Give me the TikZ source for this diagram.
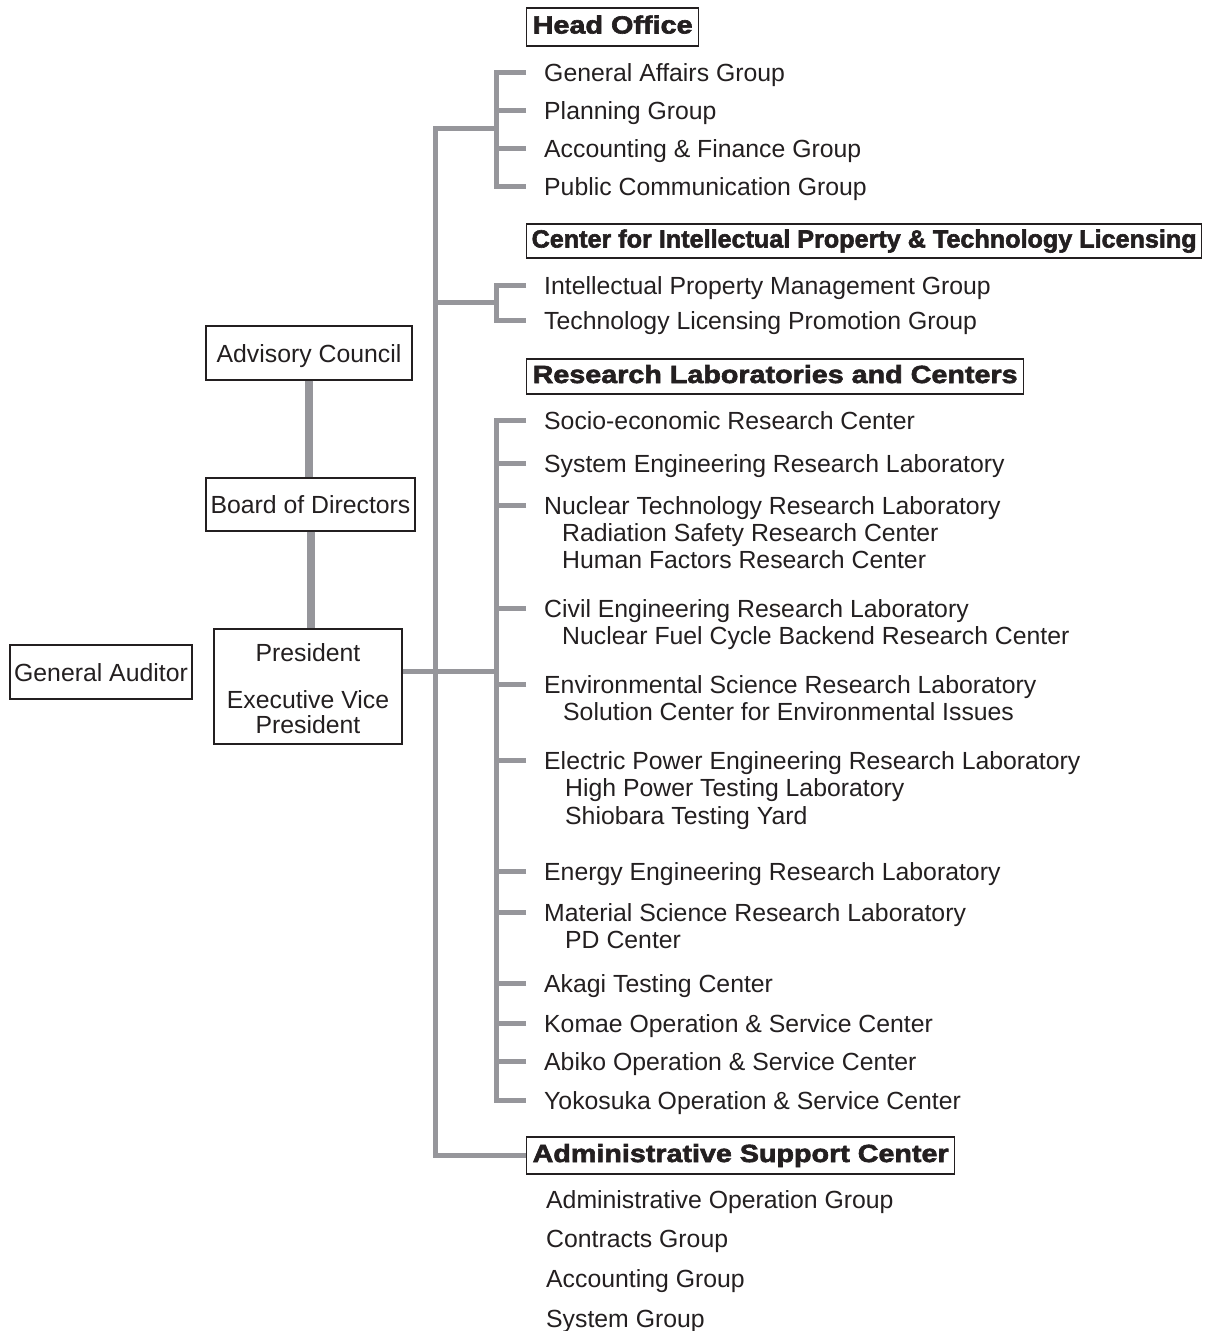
\documentclass[tikz,border=0pt]{standalone}
\usepackage{fontspec}
\setmainfont{Liberation Sans}
\newfontfamily\heavy[FakeStretch=1.15,FakeBold=2.5]{Liberation Sans Bold}
\definecolor{ln}{HTML}{96969B}
\definecolor{ink}{HTML}{231F20}
\begin{document}
\begin{tikzpicture}[x=1pt,y=-1pt,
  every node/.style={text=ink},
  item/.style={anchor=base west, inner sep=0pt, font=\fontsize{24.8}{25}\selectfont},
  head/.style={draw=ink, line width=1.3pt, anchor=west, inner xsep=6pt, inner ysep=0pt,
    text height=18pt, text depth=5pt, font=\heavy\fontsize{24.8}{25}\selectfont},
  box/.style={draw=ink, line width=1.3pt, inner sep=0pt, align=center,
    font=\fontsize{24.8}{25}\selectfont},
  onebox/.style={box, text height=18pt, text depth=0pt},
  conn/.style={draw=ln, line width=5pt},
  bigconn/.style={draw=ln, line width=8pt}]
\useasboundingbox (0,0) rectangle (1209,1331);

% ---------- left boxes ----------
\node[onebox, minimum width=206pt, minimum height=54pt] (adv) at (309,353) {Advisory Council};
\node[onebox, minimum width=209pt, minimum height=53pt] (bod) at (310.5,504.5) {Board of Directors};
\node[box, minimum width=188pt, minimum height=115pt] (pres) at (308,686.5)
  {\rule{0pt}{22pt}President\\[22pt]Executive Vice\\President};
\node[onebox, minimum width=182pt, minimum height=54pt] (aud) at (101,672) {General Auditor};

\draw[bigconn] (adv.south) -- (adv.south |- bod.north);
\draw[bigconn] (bod.south) -- (bod.south |- pres.north);

% ---------- headings ----------
\node[head, minimum height=38pt] (ho) at (526,27) {\resizebox{160pt}{\height}{Head Office}};
\node[head, minimum height=34pt, inner xsep=5pt] (cip) at (526,241)
  {\resizebox{665pt}{\height}{Center for Intellectual Property \& Technology Licensing}};
\node[head, minimum height=35pt] (rlc) at (526,376.5) {\resizebox{485pt}{\height}{Research Laboratories and Centers}};
\node[head, minimum height=37pt] (adm) at (526,1155.5) {\resizebox{416pt}{\height}{Administrative Support Center}};

% ---------- Head Office items ----------
\node[item] (h1) at (544,81) {General Affairs Group};
\node[item] (h2) at (544,119) {Planning Group};
\node[item] (h3) at (544,157) {Accounting \& Finance Group};
\node[item] (h4) at (544,195) {Public Communication Group};

% ---------- CIPTL items ----------
\node[item] (c1) at (544,294) {Intellectual Property Management Group};
\node[item] (c2) at (544,329) {Technology Licensing Promotion Group};

% ---------- Research items ----------
\node[item] (r1) at (544,429) {Socio-economic Research Center};
\node[item] (r2) at (544,472) {System Engineering Research Laboratory};
\node[item] (r3) at (544,514) {Nuclear Technology Research Laboratory};
\node[item] (r3a) at (562,541) {Radiation Safety Research Center};
\node[item] (r3b) at (562,568) {Human Factors Research Center};
\node[item] (r4) at (544,617) {Civil Engineering Research Laboratory};
\node[item] (r4a) at (562,644) {Nuclear Fuel Cycle Backend Research Center};
\node[item] (r5) at (544,693) {Environmental Science Research Laboratory};
\node[item] (r5a) at (563,720) {Solution Center for Environmental Issues};
\node[item] (r6) at (544,769) {Electric Power Engineering Research Laboratory};
\node[item] (r6a) at (565,796) {High Power Testing Laboratory};
\node[item] (r6b) at (565,824) {Shiobara Testing Yard};
\node[item] (r7) at (544,880) {Energy Engineering Research Laboratory};
\node[item] (r8) at (544,921) {Material Science Research Laboratory};
\node[item] (r8a) at (565,948) {PD Center};
\node[item] (r9) at (544,992) {Akagi Testing Center};
\node[item] (r10) at (544,1032) {Komae Operation \& Service Center};
\node[item] (r11) at (544,1070) {Abiko Operation \& Service Center};
\node[item] (r12) at (544,1109) {Yokosuka Operation \& Service Center};

% ---------- Admin items ----------
\node[item] (a1) at (546,1208) {Administrative Operation Group};
\node[item] (a2) at (546,1247) {Contracts Group};
\node[item] (a3) at (546,1287) {Accounting Group};
\node[item] (a4) at (546,1327) {System Group};

% ---------- tick end points ----------
\foreach \n in {h1,h2,h3,h4,c1,c2,r1,r2,r3,r4,r5,r6,r7,r8,r9,r10,r11,r12}
  \coordinate (\n t) at ([shift={(-18,-9)}]\n.base west);

\coordinate (hj) at (496,128);
\coordinate (cj) at (496,302);
\coordinate (rj) at (496,671);
\coordinate (trtop) at (435,128);

% brackets
\draw[conn] (h1t) -- ++(-30,0) |- (h4t);
\foreach \n in {h2,h3} \draw[conn] (\n t) -- ++(-30,0);
\draw[conn] (c1t) -- ++(-30,0) |- (c2t);
\draw[conn] (r1t) -- ++(-30,0) |- (r12t);
\foreach \n in {r2,r3,r4,r5,r6,r7,r8,r9,r10,r11} \draw[conn] (\n t) -- ++(-30,0);

% trunk
\draw[conn] (hj) -- (trtop) |- (adm.west);
\draw[conn] (cj) -- (cj -| trtop);
\draw[conn] (pres.east |- rj) -- (rj);
\end{tikzpicture}
\end{document}
